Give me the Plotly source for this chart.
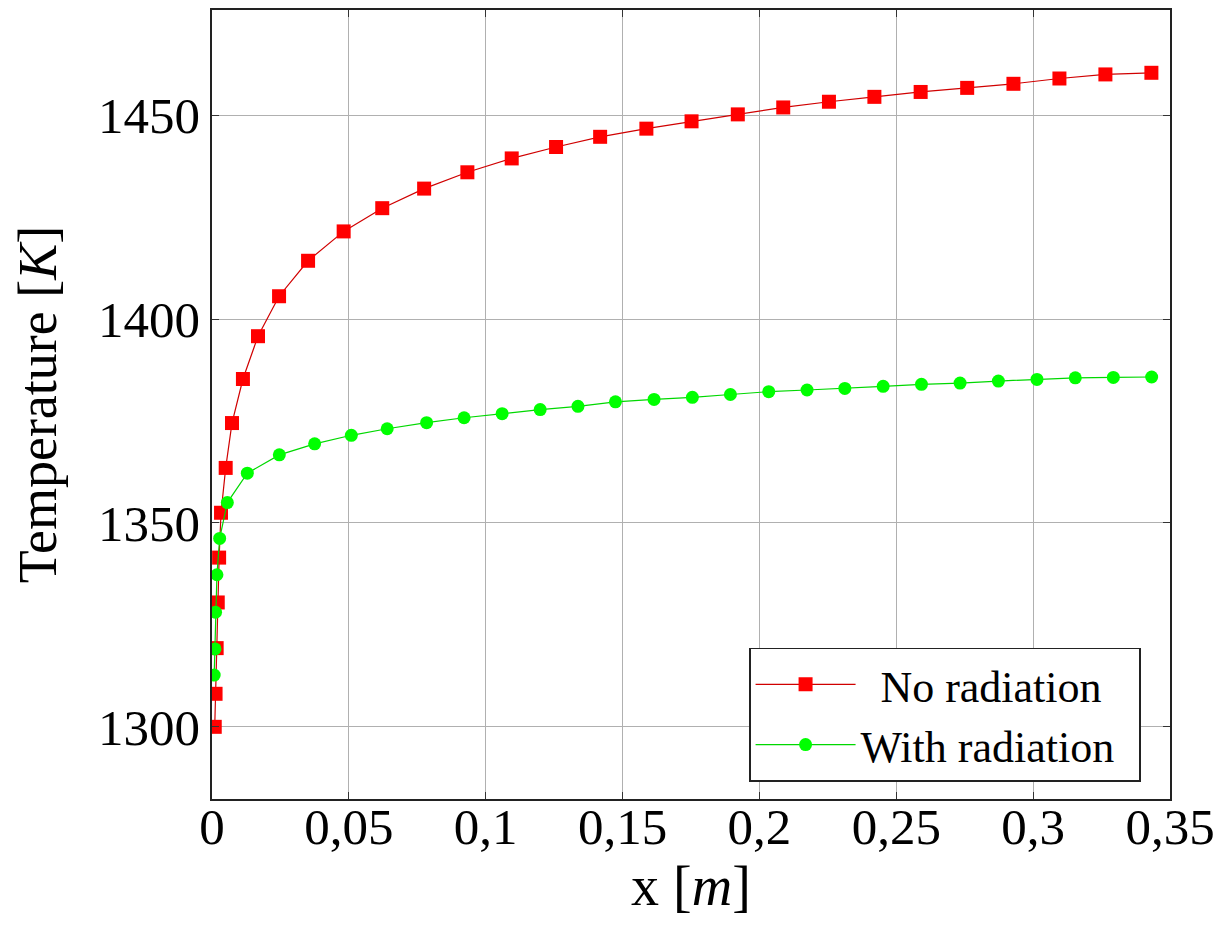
import plotly.graph_objects as go

# ---- data ----
x_no_rad = [0.0010, 0.0013, 0.0017, 0.0021, 0.0026, 0.0033, 0.0050, 0.0073,
            0.0113, 0.0168, 0.0245, 0.0351, 0.0481, 0.0622, 0.0775, 0.0933,
            0.1095, 0.1257, 0.1418, 0.1587, 0.1752, 0.1921, 0.2087, 0.2254,
            0.2420, 0.2589, 0.2759, 0.2928, 0.3096, 0.3264, 0.3432]
t_no_rad = [1300.0, 1308.1, 1319.3, 1330.5, 1341.5, 1352.5, 1363.5, 1374.5,
            1385.3, 1395.8, 1405.6, 1414.3, 1421.5, 1427.2, 1432.0, 1436.0,
            1439.4, 1442.2, 1444.7, 1446.7, 1448.5, 1450.2, 1451.9, 1453.3,
            1454.5, 1455.7, 1456.7, 1457.7, 1459.0, 1460.0, 1460.4]

x_rad = [0.0008, 0.0011, 0.0013, 0.0018, 0.0028, 0.0056, 0.0129, 0.0246,
         0.0375, 0.0509, 0.0640, 0.0784, 0.0921, 0.1060, 0.1199, 0.1337,
         0.1474, 0.1615, 0.1755, 0.1894, 0.2034, 0.2174, 0.2312, 0.2452,
         0.2592, 0.2733, 0.2873, 0.3014, 0.3154, 0.3293, 0.3433]
t_rad = [1312.7, 1319.1, 1328.1, 1337.3, 1346.2, 1355.0, 1362.2, 1366.7,
         1369.4, 1371.5, 1373.1, 1374.6, 1375.8, 1376.8, 1377.8, 1378.6,
         1379.7, 1380.3, 1380.8, 1381.5, 1382.2, 1382.6, 1383.0, 1383.5,
         1384.0, 1384.3, 1384.8, 1385.2, 1385.6, 1385.7, 1385.8]

x_tickvals = [0, 0.05, 0.1, 0.15, 0.2, 0.25, 0.3, 0.35]
x_ticktext = ["0", "0,05", "0,1", "0,15", "0,2", "0,25", "0,3", "0,35"]
y_tickvals = [1300, 1350, 1400, 1450]
y_ticktext = ["1300", "1350", "1400", "1450"]

series_names = ["\u00a0\u2009No radiation\u00a0\u2009", "With radiation\u00a0\u2009"]

FONT = "Liberation Serif, Times New Roman, DejaVu Serif, serif"

fig = go.Figure()
fig.add_trace(go.Scatter(
    x=x_no_rad, y=t_no_rad, name=series_names[0], mode="lines+markers",
    line=dict(color="#d00000", width=1.2),
    marker=dict(symbol="square", size=14, color="#ff0000",
                line=dict(width=0)),
))
fig.add_trace(go.Scatter(
    x=x_rad, y=t_rad, name=series_names[1], mode="lines+markers",
    line=dict(color="#00d800", width=1.2),
    marker=dict(symbol="circle", size=13, color="#00ff00",
                line=dict(width=0)),
))

axis_common = dict(
    showgrid=True, gridcolor="#b0b0b0", gridwidth=1,
    showline=True, linecolor="#222222", linewidth=1.6, mirror="ticks",
    ticks="inside", ticklen=7, tickcolor="#333333", tickwidth=1.2,
    zeroline=False,
    tickfont=dict(family=FONT, size=51, color="black"),
)

fig.update_layout(
    width=1227, height=945,
    margin=dict(l=204, r=65, t=0, b=154),
    paper_bgcolor="white", plot_bgcolor="white",
    font=dict(family=FONT, color="black"),
    showlegend=True,
    legend=dict(
        x=0.9697, y=0.022, xanchor="right", yanchor="bottom",
        bgcolor="white", bordercolor="#222222", borderwidth=1.6,
        font=dict(family=FONT, size=44, color="black"),
        itemwidth=100,
        tracegroupgap=0,
    ),
)
fig.update_xaxes(
    range=[0, 0.35], tickvals=x_tickvals, ticktext=x_ticktext,
    ticklabelstandoff=-18,
    title=dict(text="x [<i>m</i>]", font=dict(family=FONT, size=56), standoff=0),
    **axis_common,
)
fig.update_yaxes(
    range=[1282.3, 1475.8], tickvals=y_tickvals, ticktext=y_ticktext,
    title=dict(text="Temperature [<i>K</i>]", font=dict(family=FONT, size=54), standoff=37),
    **axis_common,
)

fig.write_html("out.html")
